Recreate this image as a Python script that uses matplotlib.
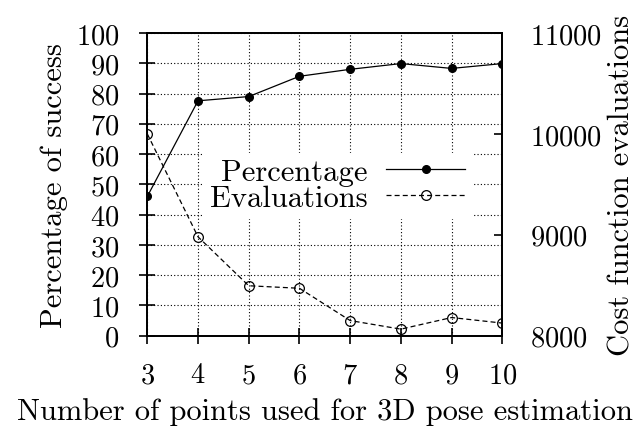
import matplotlib
matplotlib.use("Agg")
import matplotlib.pyplot as plt

plt.rcParams['font.family'] = ['cmr10', 'DejaVu Serif']
plt.rcParams['mathtext.fontset'] = 'cm'
plt.rcParams['axes.formatter.use_mathtext'] = True

points = [3, 4, 5, 6, 7, 8, 9, 10]
percentage = [46, 77.6, 79, 85.7, 88, 89.9, 88.3, 89.9]
evaluations = [10000, 8980, 8495, 8470, 8150, 8065, 8180, 8125]
left_ticks = list(range(0, 101, 10))
right_ticks = [8000, 9000, 10000, 11000]

FS_TICK = 20.5
FS = 22
fig = plt.figure(figsize=(6.41, 4.31), dpi=100)
ax = fig.add_axes([147.3/641, 1-336.7/431, 355/641, 302.7/431])
ax2 = ax.twinx()

ax.set_xlim(3, 10)
ax.set_ylim(0, 100)
ax2.set_ylim(8000, 11000)
ax.set_xticks(points)
ax.set_yticks(left_ticks)
ax2.set_yticks(right_ticks)

ax.grid(True, linestyle=(0, (1, 2)), color='black', linewidth=0.8)
ax.set_axisbelow(True)

l1, = ax.plot(points, percentage, color='black', linewidth=0.9, marker='o',
              markersize=5.5, markerfacecolor='black', label='Percentage', zorder=3)
l2, = ax2.plot(points, evaluations, color='black', linewidth=0.9, linestyle=(0, (4, 2.5)),
               marker='o', markersize=7, markerfacecolor='none', markeredgewidth=0.9,
               label='Evaluations', zorder=3)

for a in (ax, ax2):
    for s in a.spines.values():
        s.set_linewidth(1.3)

ax.tick_params(axis='both', direction='inout', length=12, width=1.2, labelsize=FS_TICK)
ax.tick_params(axis='y', pad=14)
ax.tick_params(axis='x', pad=13)
ax2.tick_params(axis='y', direction='in', length=6, width=1.2, labelsize=FS_TICK, pad=20)

ax.set_xlabel('Number of points used for 3D pose estimation', fontsize=FS, labelpad=6)
ax.set_ylabel('Percentage of success', fontsize=FS, labelpad=6)
ax2.set_ylabel('Cost function evaluations', fontsize=FS, labelpad=4)

leg = ax2.legend([l1, l2], ['Percentage', 'Evaluations'], loc='upper right',
                 bbox_to_anchor=(0.913, 0.605), fontsize=FS, markerfirst=False,
                 frameon=True, fancybox=False, framealpha=1, edgecolor='white',
                 handlelength=2.6, handletextpad=0.6, labelspacing=-0.05,
                 borderpad=0.2, borderaxespad=0)
for t in leg.get_texts():
    t.set_ha('right')
leg._legend_box.align = 'right'
leg.set_zorder(2)

fig.savefig('out.png', dpi=100)
